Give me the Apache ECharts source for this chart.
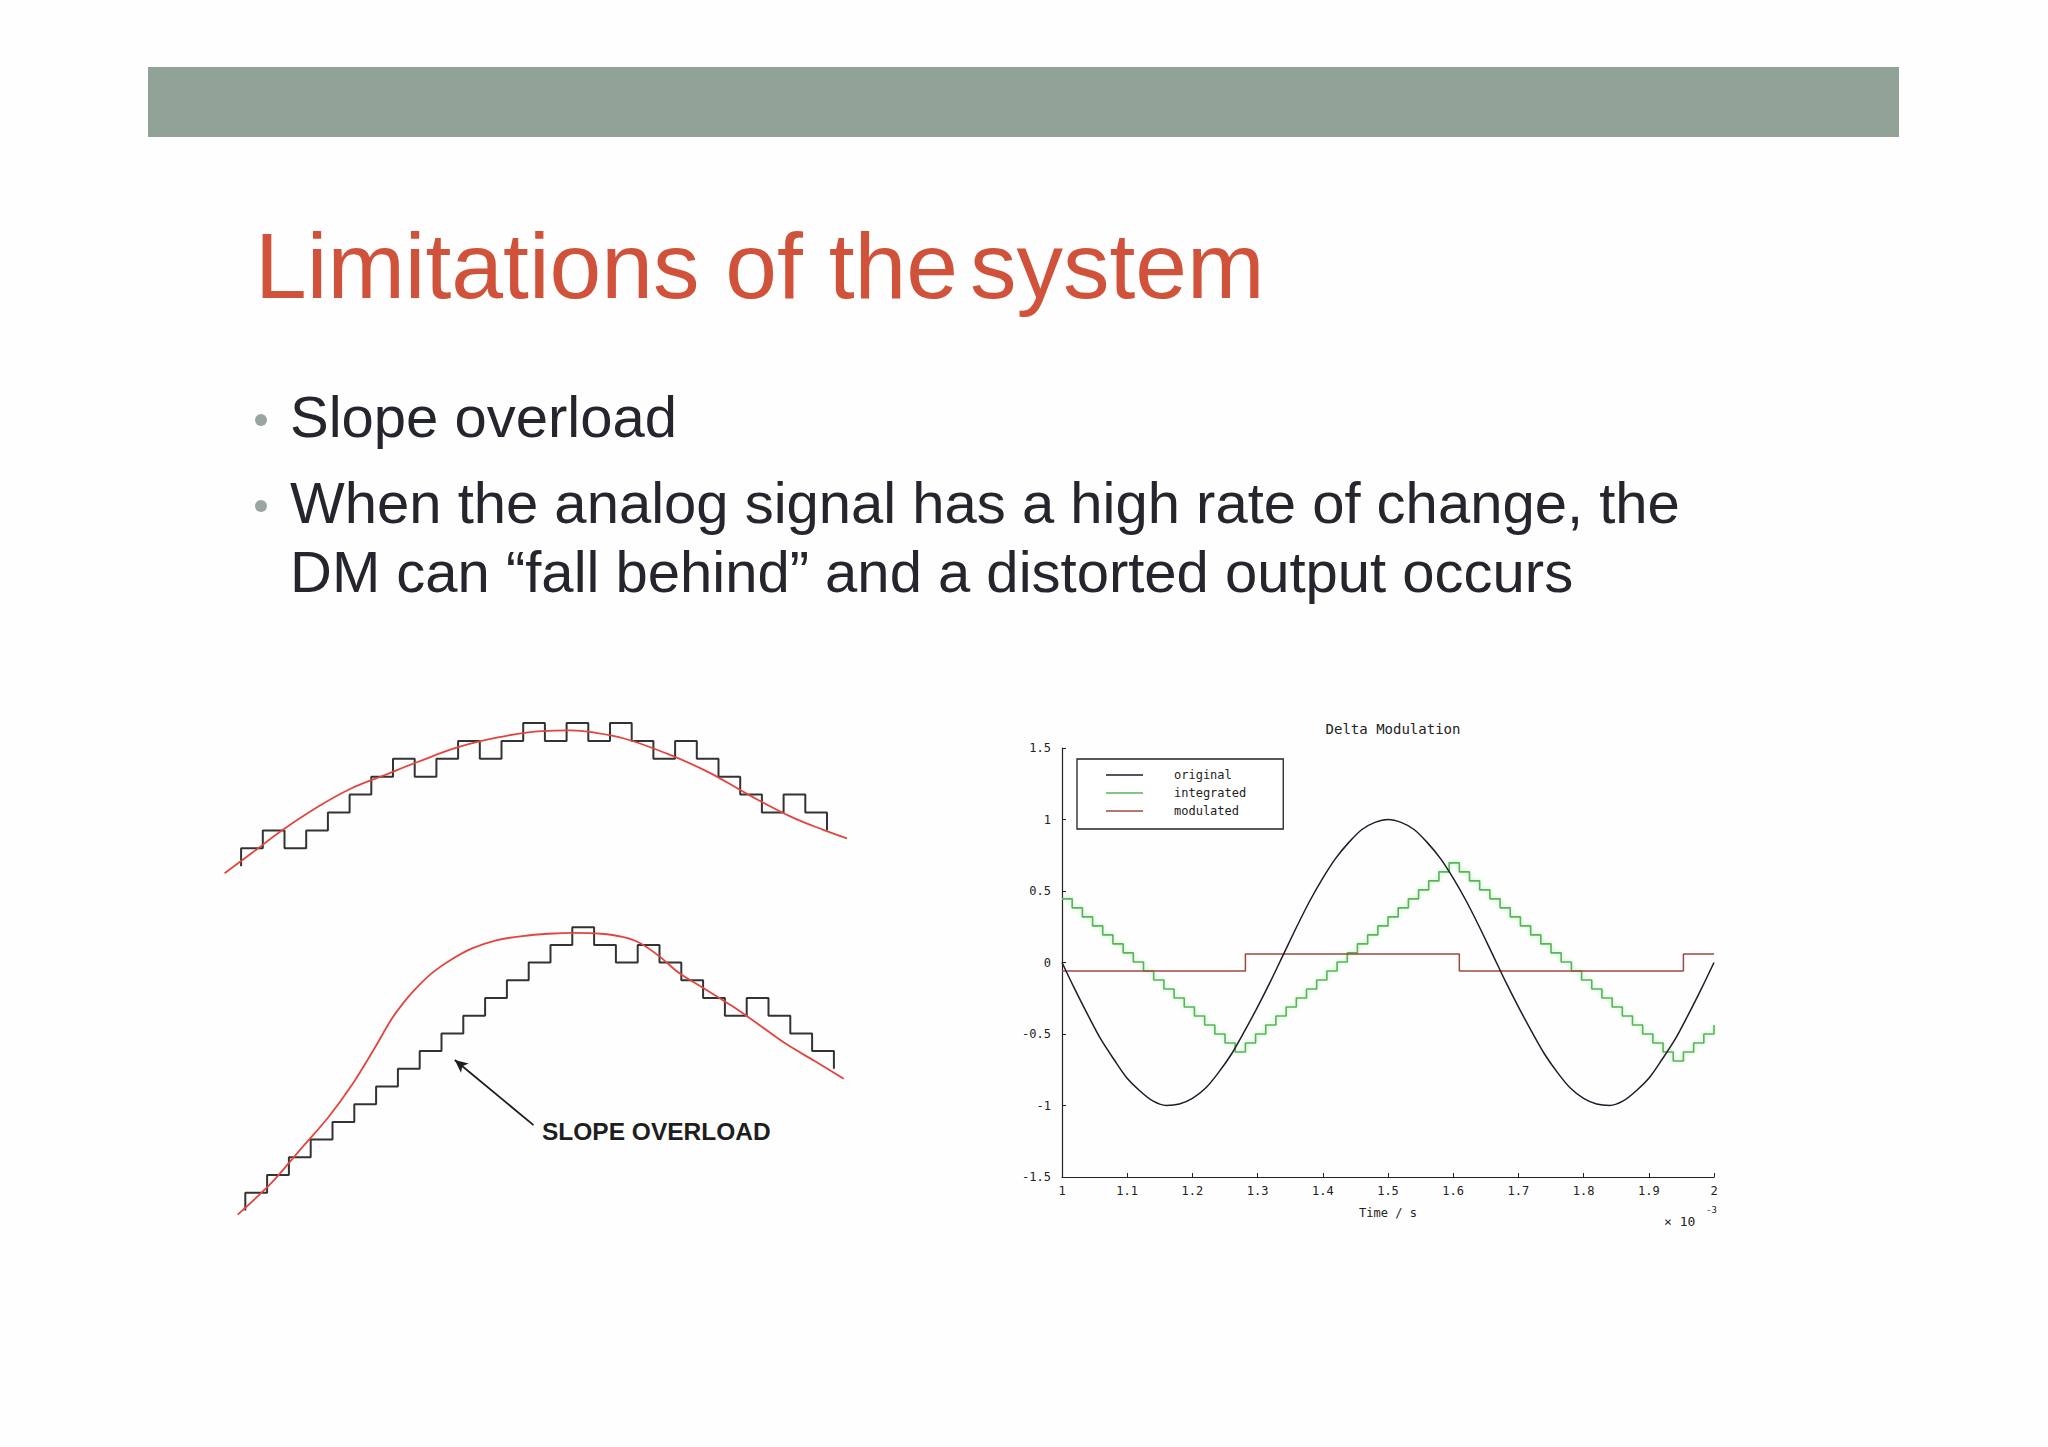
<!DOCTYPE html>
<html><head><meta charset="utf-8">
<script src="https://cdn.jsdelivr.net/npm/echarts@6/dist/echarts.min.js"></script>
<style>
html,body{margin:0;padding:0;background:#fefefe;}
#wrap{position:relative;width:2048px;height:1447px;overflow:hidden;background:#fefefe;font-family:"Liberation Sans",Arial,sans-serif;}
#band{position:absolute;left:148px;top:67px;width:1751px;height:70px;background:#91a296;}
#title{position:absolute;left:255px;top:220px;font-size:93px;line-height:93px;color:#d0523a;white-space:nowrap;}
.bl{position:absolute;left:290px;font-size:58px;line-height:58px;color:#25252d;white-space:nowrap;}
.dot{position:absolute;left:255px;width:12px;height:12px;border-radius:6px;background:#9aa59f;}
#chart{position:absolute;left:0;top:0;width:2048px;height:1447px;}
</style></head>
<body><div id="wrap">
<div id="chart"></div>
<div id="band"></div>
<div id="title">Limitations of the<span style="word-spacing:-14px"> </span>system</div>
<div class="dot" style="top:414px"></div>
<div class="bl" style="top:388px">Slope overload</div>
<div class="dot" style="top:500px"></div>
<div class="bl" style="top:474px">When the analog signal has a high rate of change, the</div>
<div class="bl" style="top:543px">DM can “fall behind” and a distorted output occurs</div>
</div>
<script>
// ---- left diagrams (step index / quantisation level units) ----
const topStairX = [0,0,1,2,3,4,5,6,7,8,9,10,11,12,13,14,15,16,17,18,19,20,21,22,23,24,25,26,27];
const topStairY = [-1,0,1,0,1,2,3,4,5,4,5,6,5,6,7,6,7,6,7,6,5,6,5,4,3,2,3,2,1];
const topCurveX = [-0.76,0.48,1.91,3.54,5.07,6.60,8.13,10.04,11.95,13.86,15.2,16.16,17.69,19.6,21.51,23.42,25.33,26.86,27.92];
const topCurveY = [-1.39,-0.28,1.02,2.32,3.34,4.08,4.82,5.66,6.22,6.55,6.59,6.49,6.12,5.30,4.27,2.97,1.77,1.02,0.56];

const botStairX = [0,0,1,2,3,4,5,6,7,8,9,10,11,12,13,14,15,16,17,18,19,20,21,22,23,24,25,26,27];
const botStairY = [-1,0,1,2,3,4,5,6,7,8,9,10,11,12,13,14,15,14,13,14,13,12,11,10,11,10,9,8,7];
const botCurveX = [-0.35,1.20,2.53,3.80,4.92,5.90,6.72,7.40,7.95,8.60,9.42,10.40,11.51,12.70,13.91,15.10,16.31,17.30,18.10,19.00,19.90,21.10,22.30,23.50,24.69,26.10,27.45];
const botCurveY = [-1.24,0.55,2.45,4.25,6.14,8.10,9.83,10.95,11.70,12.45,13.15,13.80,14.26,14.50,14.63,14.68,14.63,14.45,14.11,13.35,12.41,11.50,10.57,9.55,8.50,7.45,6.44];
const arrowX = [13.22, 9.61];
const arrowY = [3.82, 7.50];

// ---- Delta Modulation chart (time in ms) ----
const origT = [1.00,1.02,1.04,1.06,1.08,1.10,1.12,1.14,1.16,1.18,1.20,1.22,1.24,1.26,1.28,1.30,1.32,1.34,1.36,1.38,1.40,1.42,1.44,1.46,1.48,1.50,1.52,1.54,1.56,1.58,1.60,1.62,1.64,1.66,1.68,1.70,1.72,1.74,1.76,1.78,1.80,1.82,1.84,1.86,1.88,1.90,1.92,1.94,1.96,1.98,2.00];
const origV = [0,-0.19,-0.37,-0.54,-0.68,-0.81,-0.90,-0.97,-1.00,-0.99,-0.95,-0.88,-0.77,-0.64,-0.48,-0.31,-0.13,0.06,0.25,0.43,0.59,0.73,0.84,0.93,0.98,1.00,0.98,0.93,0.84,0.73,0.59,0.43,0.25,0.06,-0.13,-0.31,-0.48,-0.64,-0.77,-0.88,-0.95,-0.99,-1.00,-0.97,-0.90,-0.81,-0.68,-0.54,-0.37,-0.19,0];
const intT = [1.0000,1.0156,1.0313,1.0469,1.0625,1.0781,1.0938,1.1094,1.1250,1.1406,1.1563,1.1719,1.1875,1.2031,1.2188,1.2344,1.2500,1.2656,1.2813,1.2969,1.3125,1.3281,1.3438,1.3594,1.3750,1.3906,1.4063,1.4219,1.4375,1.4531,1.4688,1.4844,1.5000,1.5156,1.5313,1.5469,1.5625,1.5781,1.5938,1.6094,1.6250,1.6406,1.6563,1.6719,1.6875,1.7031,1.7188,1.7344,1.7500,1.7656,1.7813,1.7969,1.8125,1.8281,1.8438,1.8594,1.8750,1.8906,1.9063,1.9219,1.9375,1.9531,1.9688,1.9844,2.0000];
const intV = [0.445,0.382,0.319,0.256,0.193,0.130,0.067,0.004,-0.059,-0.122,-0.185,-0.248,-0.311,-0.374,-0.437,-0.500,-0.563,-0.626,
  -0.563,-0.500,-0.437,-0.374,-0.311,-0.248,-0.185,-0.122,-0.059,0.004,0.067,0.130,0.193,0.256,0.319,0.382,0.445,0.508,0.571,0.634,0.697,
  0.634,0.571,0.508,0.445,0.382,0.319,0.256,0.193,0.130,0.067,0.004,-0.059,-0.122,-0.185,-0.248,-0.311,-0.374,-0.437,-0.500,-0.563,-0.626,-0.689,
  -0.626,-0.563,-0.500,-0.437];
const modT = [1.0, 1.2813, 1.6094, 1.9531, 2.0];
const modV = [-0.06, 0.06, -0.06, 0.06, 0.06];
const seriesNames = ['original','integrated','modulated'];
const yTicks = {min:-1.5, max:1.5, interval:0.5};
const xTicks = {min:1, max:2, interval:0.1};

const zip = (a,b) => a.map((v,i) => [v, b[i]]);
const chart = echarts.init(document.getElementById('chart'), null, {renderer:'svg', width:2048, height:1447});
const hiddenAxis = (gi, min, max) => ({gridIndex:gi, type:'value', min, max, show:false});
const MONO = '"DejaVu Sans Mono", "Liberation Mono", monospace';
const axisFont = {fontFamily:MONO, fontSize:12, color:'#222'};

chart.setOption({
  animation:false,
  title:{text:'Delta Modulation', left:1388, top:717, textAlign:'center',
    textStyle:{fontFamily:MONO, fontSize:14, fontWeight:'normal', color:'#222'}},
  grid:[
    {left:219.4, top:705.1, width:651, height:179, outerBoundsMode:'none'},
    {left:223.5, top:909.5, width:654, height:336.3, outerBoundsMode:'none'},
    {left:1062, top:748, width:652, height:429, outerBoundsMode:'none'}
  ],
  xAxis:[
    hiddenAxis(0,-1,29), hiddenAxis(1,-1,29),
    {gridIndex:2, type:'value', min:xTicks.min, max:xTicks.max, interval:xTicks.interval,
     name:'Time / s', nameLocation:'middle', nameGap:30, nameTextStyle:axisFont,
     axisLine:{onZero:false, lineStyle:{color:'#222', width:1.2}}, axisTick:{inside:true, length:4, lineStyle:{color:'#222'}},
     axisLabel:{...axisFont, margin:8, showMinLabel:true, showMaxLabel:true}, splitLine:{show:false}}
  ],
  yAxis:[
    hiddenAxis(0,-2,8), hiddenAxis(1,-3,16),
    {gridIndex:2, type:'value', min:yTicks.min, max:yTicks.max, interval:yTicks.interval,
     axisLine:{show:true, onZero:false, lineStyle:{color:'#222', width:1.2}}, axisTick:{show:true, inside:true, length:4, lineStyle:{color:'#222'}},
     axisLabel:{...axisFont, margin:11, showMinLabel:true, showMaxLabel:true}, splitLine:{show:false}}
  ],
  legend:{data:seriesNames, orient:'vertical', left:1077, top:759, icon:'rect', itemWidth:37, itemHeight:1.5,
    itemGap:6, padding:[10,37,12,29], borderColor:'#222', borderWidth:1.3, backgroundColor:'#fff',
    textStyle:{fontFamily:MONO, fontSize:12, color:'#222', padding:[0,0,0,26]}},
  graphic:[
    {type:'text', x:542, y:1131, style:{text:'SLOPE OVERLOAD', font:'bold 24.5px "Liberation Sans", Arial, sans-serif', fill:'#1e1e1e', verticalAlign:'middle'}},
    {type:'text', x:1664, y:1221, style:{text:'× 10', font:'13px "DejaVu Sans Mono"', fill:'#222', verticalAlign:'middle'}},
    {type:'text', x:1706, y:1210, style:{text:'-3', font:'9px "DejaVu Sans Mono"', fill:'#222', verticalAlign:'middle'}}
  ],
  series:[
    {type:'line', xAxisIndex:0, yAxisIndex:0, data:zip(topStairX, topStairY), step:'end', symbol:'none',
     lineStyle:{color:'#333', width:2}, z:2},
    {type:'line', xAxisIndex:0, yAxisIndex:0, data:zip(topCurveX, topCurveY), smooth:0.4, symbol:'none',
     lineStyle:{color:'#e2453f', width:1.8}, z:3},
    {type:'line', xAxisIndex:1, yAxisIndex:1, data:zip(botStairX, botStairY), step:'end', symbol:'none',
     lineStyle:{color:'#333', width:2}, z:2,
     markLine:{silent:true, symbol:['none','arrow'], symbolSize:[9,13], label:{show:false},
       lineStyle:{color:'#1e1e1e', width:1.8, type:'solid'},
       data:[[{coord:[arrowX[0], arrowY[0]]},{coord:[arrowX[1], arrowY[1]]}]]}},
    {type:'line', xAxisIndex:1, yAxisIndex:1, data:zip(botCurveX, botCurveY), smooth:0.3, symbol:'none',
     lineStyle:{color:'#e2453f', width:1.8}, z:3},
    {name:'original', type:'line', xAxisIndex:2, yAxisIndex:2, data:zip(origT, origV), smooth:0.3, symbol:'none',
     color:'#1d1d2b', lineStyle:{color:'#1d1d2b', width:1.5}, z:4},
    {name:'integrated', type:'line', xAxisIndex:2, yAxisIndex:2, data:zip(intT, intV), step:'end', symbol:'none',
     color:'#5bb25c', lineStyle:{color:'#5bb25c', width:1.6, shadowColor:'rgba(140,230,140,0.7)', shadowBlur:4}, z:3},
    {name:'modulated', type:'line', xAxisIndex:2, yAxisIndex:2, data:zip(modT, modV), step:'end', symbol:'none',
     color:'#9a4a46', lineStyle:{color:'#9a4a46', width:1.5}, z:3}
  ]
});
</script>
</body></html>
